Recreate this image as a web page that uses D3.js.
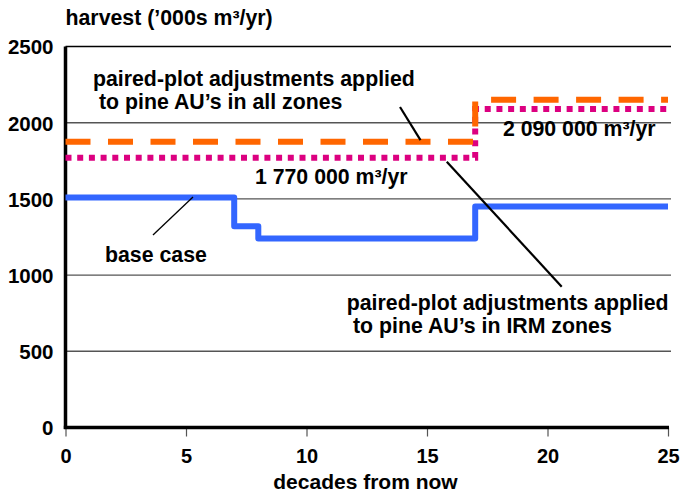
<!DOCTYPE html>
<html>
<head>
<meta charset="utf-8">
<script src="https://cdn.jsdelivr.net/npm/d3@7"></script>
<style>
  html, body { margin: 0; padding: 0; background: #fff; }
  svg { display: block; }
  text { font-family: "Liberation Sans", Arial, sans-serif; font-weight: bold; fill: #000; }
</style>
</head>
<body>
<svg id="chart" width="681" height="495"></svg>
<script>
// ---- data ----
const xTicks = [0, 5, 10, 15, 20, 25];
const yTicks = [0, 500, 1000, 1500, 2000, 2500];

// base case (step-after)
const baseDecades = [0, 7, 8, 17, 25];
const baseValues  = [1510, 1320, 1240, 1450, 1450];

// paired-plot adjustments applied to pine AU's in all zones (orange dashed)
const allZonesDecades = [0, 17, 25];
const allZonesValues  = [1875, 2150, 2150];

// paired-plot adjustments applied to pine AU's in IRM zones (magenta dotted)
const irmDecades = [0, 17, 25];
const irmValues  = [1770, 2090, 2090];

const yTitle = "harvest (’000s m³/yr)";
const xTitle = "decades from now";

// ---- chart ----
const svg = d3.select("#chart");
const x = d3.scaleLinear().domain([0, 25]).range([65.5, 668]);
const y = d3.scaleLinear().domain([0, 2500]).range([427.5, 46.5]);

// gridlines
svg.append("g").selectAll("line")
  .data(yTicks.filter(d => d > 0))
  .join("line")
  .attr("x1", x(0)).attr("x2", 671)
  .attr("y1", d => y(d)).attr("y2", d => y(d))
  .attr("stroke", d => d === 2500 ? "#000" : "#555")
  .attr("stroke-width", 1.4);

// y axis (labels only, gridlines drawn above)
const yAxis = d3.axisLeft(y).tickValues(yTicks).tickFormat(d3.format("d")).tickSize(0).tickPadding(12);
const gy = svg.append("g").attr("transform", `translate(${x(0)},0)`).call(yAxis);
gy.select(".domain").remove();
gy.selectAll("text").style("font-size", "20.5px").attr("dy", "0.36em");

// x axis
const xAxis = d3.axisBottom(x).tickValues(xTicks).tickFormat(d3.format("d")).tickSize(9).tickPadding(12);
const gx = svg.append("g").attr("transform", `translate(0,${y(0)})`).call(xAxis);
gx.select(".domain").remove();
gx.selectAll(".tick line").attr("stroke", "#555").attr("stroke-width", 1.2);
gx.selectAll("text").style("font-size", "20px").attr("dy", "0.71em");

// axis lines (thick)
svg.append("line")
  .attr("x1", x(0)).attr("x2", x(0))
  .attr("y1", y(2500)).attr("y2", y(0) + 1.5)
  .attr("stroke", "#000").attr("stroke-width", 3.5);
svg.append("line")
  .attr("x1", x(0) - 1.7).attr("x2", x(25) + 1)
  .attr("y1", y(0)).attr("y2", y(0))
  .attr("stroke", "#000").attr("stroke-width", 3.5);

// series
const line = d3.line().x(d => x(d[0])).y(d => y(d[1])).curve(d3.curveStepAfter);

svg.append("path")
  .datum(irmDecades.map((d, i) => [d, irmValues[i]]))
  .attr("d", line)
  .attr("fill", "none")
  .attr("stroke", "#DC0080")
  .attr("stroke-width", 6)
  .attr("stroke-dasharray", "6,5.7");

svg.append("path")
  .datum(allZonesDecades.map((d, i) => [d, allZonesValues[i]]))
  .attr("d", line)
  .attr("fill", "none")
  .attr("stroke", "#FF6600")
  .attr("stroke-width", 6)
  .attr("stroke-dasharray", "25,17.5");

svg.append("path")
  .datum(baseDecades.map((d, i) => [d, baseValues[i]]))
  .attr("d", line)
  .attr("fill", "none")
  .attr("stroke", "#3366FF")
  .attr("stroke-width", 6)
  .attr("stroke-linejoin", "round");

// leader lines (in data coordinates)
const leaders = [
  { x1: 13.88, y1: 2103, x2: 14.73, y2: 1886, w: 2.2 },
  { x1: 15.82, y1: 1744, x2: 20.59, y2: 924, w: 2.2 },
  { x1: 3.63, y1: 1263, x2: 5.29, y2: 1512, w: 1.3 }
];
svg.append("g").selectAll("line").data(leaders).join("line")
  .attr("x1", d => x(d.x1)).attr("y1", d => y(d.y1))
  .attr("x2", d => x(d.x2)).attr("y2", d => y(d.y2))
  .attr("stroke", "#000").attr("stroke-width", d => d.w);

// annotations
const labels = [
  { t: "paired-plot adjustments applied", x: 1.14, y: 2240 },
  { t: "to pine AU’s in all zones", x: 1.39, y: 2087 },
  { t: "1 770 000 m³/yr", x: 7.86, y: 1601 },
  { t: "2 090 000 m³/yr", x: 18.15, y: 1913 },
  { t: "base case", x: 1.64, y: 1088 },
  { t: "paired-plot adjustments applied", x: 11.67, y: 771 },
  { t: "to pine AU’s in IRM zones", x: 11.93, y: 618 }
];
svg.append("g").selectAll("text").data(labels).join("text")
  .attr("x", d => x(d.x)).attr("y", d => y(d.y))
  .style("font-size", "21.3px")
  .text(d => d.t);

// titles
svg.append("text").attr("x", x(0)).attr("y", 25).style("font-size", "21.3px").text(yTitle);
svg.append("text").attr("x", 365.5).attr("y", 489).attr("text-anchor", "middle")
  .style("font-size", "21px").text(xTitle);
</script>
</body>
</html>
